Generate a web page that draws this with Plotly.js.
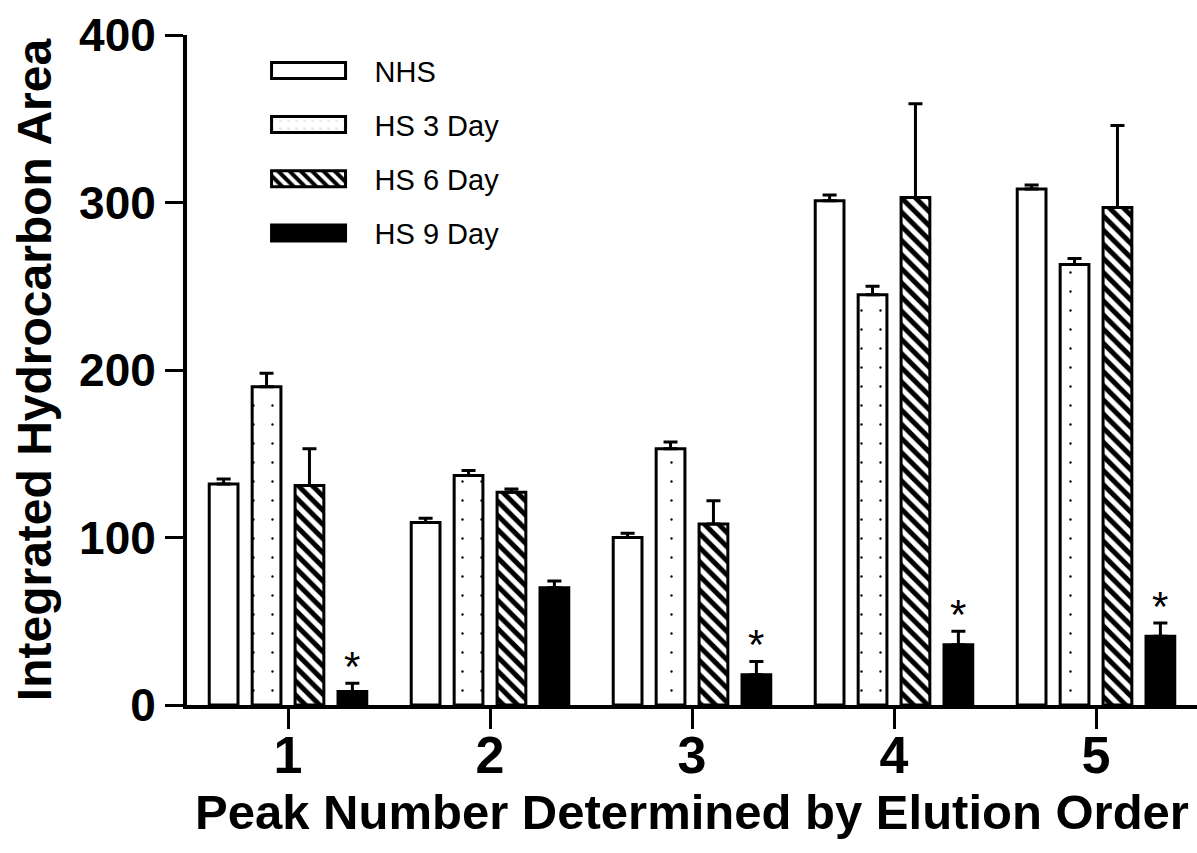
<!DOCTYPE html>
<html><head><meta charset="utf-8">
<script src="https://cdn.plot.ly/plotly-3.0.1.min.js"></script>
<style>html,body{margin:0;padding:0;background:#fff}#chart{width:1197px;height:853px}</style>
</head><body><div id="chart"></div>
<script>
const peaks = [1, 2, 3, 4, 5];
const seriesNames = ['NHS', 'HS 3 Day', 'HS 6 Day', 'HS 9 Day'];
const nhs = [132, 109, 100, 301, 308];
const nhsErr = [3, 2.5, 2.5, 3.5, 2.5];
const hs3 = [190, 137, 153, 245, 263];
const hs3Err = [8, 3, 4, 5, 3.5];
const hs6 = [131, 127, 108, 303, 297];
const hs6Err = [22, 2, 14, 56, 49];
const hs9 = [8, 70, 18, 36, 41];
const hs9Err = [5, 4, 8, 8, 8];
const hs9Star = [true, false, true, true, true];
const yTicks = [0, 100, 200, 300, 400];

const BARGAP = 0.15;
const patterns = [
  {shape: ''},
  {shape: '.', size: 19, solidity: 0.012, fgcolor: 'black', bgcolor: 'white'},
  {shape: '\\', size: 10, solidity: 0.5, fgcolor: 'black', bgcolor: 'white'},
  {shape: ''}
];
const fills = ['white', 'white', 'white', 'black'];
const vals = [nhs, hs3, hs6, hs9];
const errs = [nhsErr, hs3Err, hs6Err, hs9Err];

const traces = seriesNames.map((nm, k) => ({
  type: 'bar', name: nm, x: peaks, y: vals[k], legendgroup: 'g' + k,
  marker: {color: fills[k], line: {color: 'black', width: 3}, pattern: patterns[k]},
  error_y: {type: 'data', symmetric: false, array: errs[k], arrayminus: errs[k].map(() => 0),
            color: 'black', thickness: 3, width: 7},
  hoverinfo: 'none'
}));

const slot = (1 - BARGAP) / 4;
const annotations = [];
hs9Star.forEach((s, i) => {
  if (s) annotations.push({
    x: peaks[i] + 1.5 * slot, y: hs9[i] + hs9Err[i], xref: 'x', yref: 'y',
    text: '*', showarrow: false, yanchor: 'bottom', yshift: -9,
    font: {family: 'Liberation Sans, Arial', size: 42, color: 'black'}
  });
});

const layout = {
  width: 1197, height: 853,
  margin: {l: 187, r: 0, t: 35, b: 148},
  paper_bgcolor: 'white', plot_bgcolor: 'white',
  barmode: 'group', bargap: BARGAP, bargroupgap: 0.33,
  showlegend: true,
  legend: {x: 0.055, y: 0.985, xanchor: 'left', yanchor: 'top', bgcolor: 'rgba(0,0,0,0)',
           font: {family: 'Liberation Sans, Arial', size: 29, color: 'black'},
           itemwidth: 122, tracegroupgap: 13.5, traceorder: 'grouped', itemclick: false},
  xaxis: {range: [0.5, 5.5], tickvals: peaks, ticktext: peaks.map(String),
          showline: true, linewidth: 4, linecolor: 'black', ticks: 'outside', ticklen: 20,
          tickwidth: 3, tickcolor: 'black', showgrid: false, zeroline: false,
          ticklabelstandoff: -18,
          tickfont: {family: 'Liberation Sans, Arial', size: 52, weight: 'bold', color: 'black'},
          title: {text: 'Peak Number Determined by Elution Order', standoff: 12,
                  font: {family: 'Liberation Sans, Arial', size: 49, weight: 'bold', color: 'black'}}},
  yaxis: {range: [0, 400], tickvals: yTicks, showline: true, linewidth: 4, linecolor: 'black',
          ticks: 'outside', ticklen: 18, tickwidth: 3, tickcolor: 'black', showgrid: false, zeroline: false,
          tickfont: {family: 'Liberation Sans, Arial', size: 46, weight: 'bold', color: 'black'},
          title: {text: 'Integrated Hydrocarbon Area', standoff: 3,
                  font: {family: 'Liberation Sans, Arial', size: 48, weight: 'bold', color: 'black'}}},
  annotations: annotations
};

Plotly.newPlot('chart', traces, layout, {staticPlot: true}).then(gd => {
  gd.querySelectorAll('.legend .legendpoints path').forEach(p => {
    p.setAttribute('d', 'M-37,-8H37V8H-37Z');
    p.style.strokeWidth = '3px';
    p.style.stroke = 'black';
  });
  const yt = gd.querySelector('.g-ytitle');
  if (yt) yt.setAttribute('transform', 'translate(-10,0)');
});
</script></body></html>
